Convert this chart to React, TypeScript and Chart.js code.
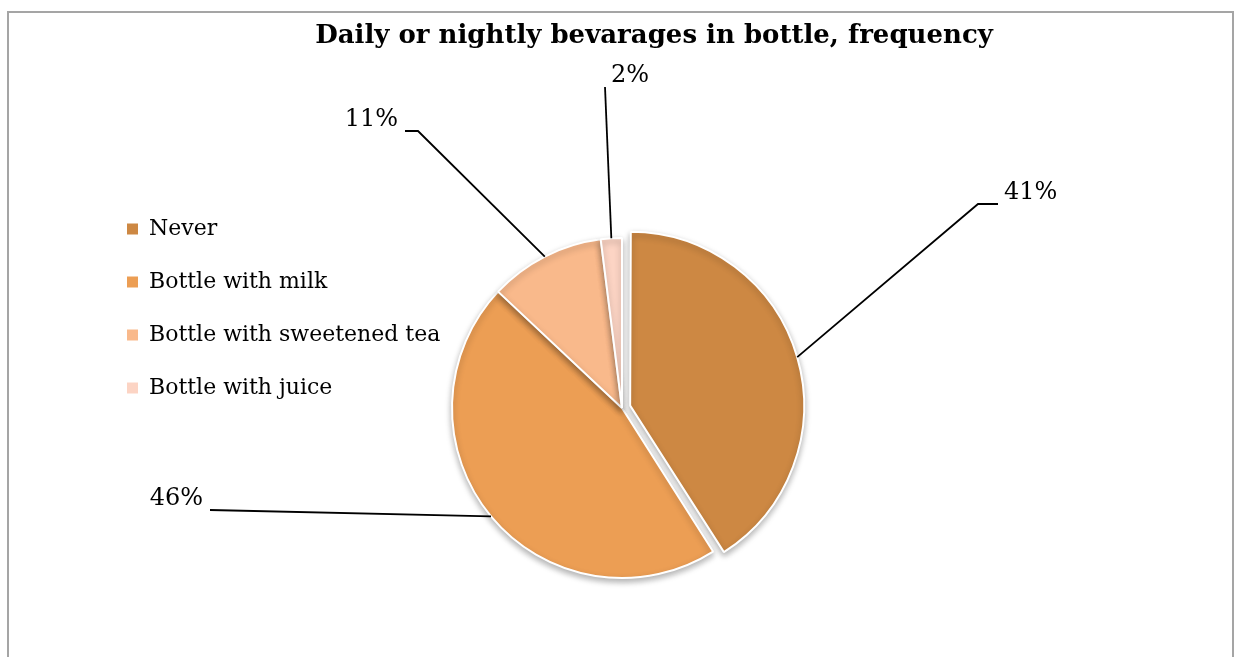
import React, { useEffect, useRef } from 'react';
import { Chart, registerables, DoughnutController } from 'chart.js';

Chart.register(...registerables);

const TITLE = 'Daily or nightly bevarages in bottle, frequency';
const categories = ['Never', 'Bottle with milk', 'Bottle with sweetened tea', 'Bottle with juice'];
const shares = [41, 46, 11, 2];
const sliceColors = ['#CD8843', '#EC9E54', '#F9B98B', '#FCD4C4'];
const explode = [34, 0, 0, 0];

// leader-line layout for the percentage labels (relative to the pie centre)
const labelElbow = [[356, -204], [-412, 102], [-204, -277], [-17, -321]];
const labelTail = [20, 0, -13, 0];
const labelSide = ['right', 'left', 'left', 'right'];

const FONT = 'DejaVu Serif';

const shadowPlugin = {
  id: 'pieShadow',
  beforeDatasetsDraw(chart: any) {
    const ctx = chart.ctx;
    ctx.save();
    ctx.shadowColor = 'rgba(0,0,0,0.3)';
    ctx.shadowBlur = 6;
    ctx.shadowOffsetX = 0;
    ctx.shadowOffsetY = 3;
  },
  afterDatasetsDraw(chart: any) {
    chart.ctx.restore();
  },
};

const labelPlugin = {
  id: 'pieLabels',
  afterDraw(chart: any) {
    const ctx = chart.ctx;
    const meta = chart.getDatasetMeta(0);
    const values = chart.data.datasets[0].data as number[];
    const total = values.reduce((a, b) => a + b, 0);
    ctx.save();
    ctx.strokeStyle = '#000';
    ctx.lineWidth = 1.8;
    ctx.fillStyle = '#000';
    ctx.font = `24px "${FONT}"`;
    ctx.textBaseline = 'middle';
    meta.data.forEach((arc: any, i: number) => {
      const p = arc.getProps(['x', 'y', 'startAngle', 'endAngle', 'outerRadius'], true);
      const mid = (p.startAngle + p.endAngle) / 2;
      const off = (arc.options.offset || 0) / 4;
      const circ = p.endAngle - p.startAngle;
      const fix = 1 - Math.sin(Math.min(Math.PI, circ));
      const r = off + p.outerRadius + off * fix;
      const sx = p.x + Math.cos(mid) * r;
      const sy = p.y + Math.sin(mid) * r;
      const ex = p.x + labelElbow[i][0];
      const ey = p.y + labelElbow[i][1];
      const tx = ex + labelTail[i];
      ctx.beginPath();
      ctx.moveTo(sx, sy);
      ctx.lineTo(ex, ey);
      ctx.lineTo(tx, ey);
      ctx.stroke();
      const text = Math.round((values[i] / total) * 100) + '%';
      const right = labelSide[i] === 'right';
      ctx.textAlign = right ? 'left' : 'right';
      ctx.fillText(text, tx + (right ? 6 : -7), ey - 11);
    });
    ctx.font = `bold 26px "${FONT}"`;
    ctx.textAlign = 'center';
    ctx.textBaseline = 'alphabetic';
    ctx.fillText(TITLE, 654, 43);
    ctx.restore();
  },
};

export default function App() {
  const ref = useRef<HTMLCanvasElement>(null);
  useEffect(() => {
    const baseGen = (DoughnutController as any).overrides.plugins.legend.labels.generateLabels;
    const chart = new Chart(ref.current!, {
      type: 'pie',
      data: {
        labels: categories,
        datasets: [
          {
            data: shares,
            backgroundColor: sliceColors,
            borderColor: '#ffffff',
            borderWidth: 2,
            offset: explode,
            clip: false,
          } as any,
        ],
      },
      options: {
        responsive: false,
        animation: false,
        devicePixelRatio: 1,
        events: [],
        radius: 170,
        layout: { padding: { left: 96, right: 437, top: 187, bottom: 28 } },
        plugins: {
          legend: {
            position: 'left',
            align: 'start',
            maxWidth: 350,
            labels: {
              boxWidth: 11,
              boxHeight: 11,
              padding: 31,
              color: '#000',
              font: { family: FONT, size: 22 },
              generateLabels: (c: any) => baseGen(c).map((l: any) => ({ ...l, lineWidth: 0 })),
            },
          },
          title: { display: false },
          tooltip: { enabled: false },
        },
      } as any,
      plugins: [shadowPlugin, labelPlugin],
    });
    return () => chart.destroy();
  }, []);
  return (
    <div style={{ position: 'absolute', left: 0, top: 0, width: 1235, height: 657, overflow: 'hidden', background: '#fff' }}>
      <div
        style={{
          position: 'absolute',
          left: 7,
          top: 11,
          width: 1227,
          height: 800,
          border: '2px solid #a5a5a5',
          boxSizing: 'border-box',
        }}
      />
      <canvas ref={ref} width={1235} height={657} style={{ position: 'absolute', left: 0, top: 0 }} />
    </div>
  );
}
